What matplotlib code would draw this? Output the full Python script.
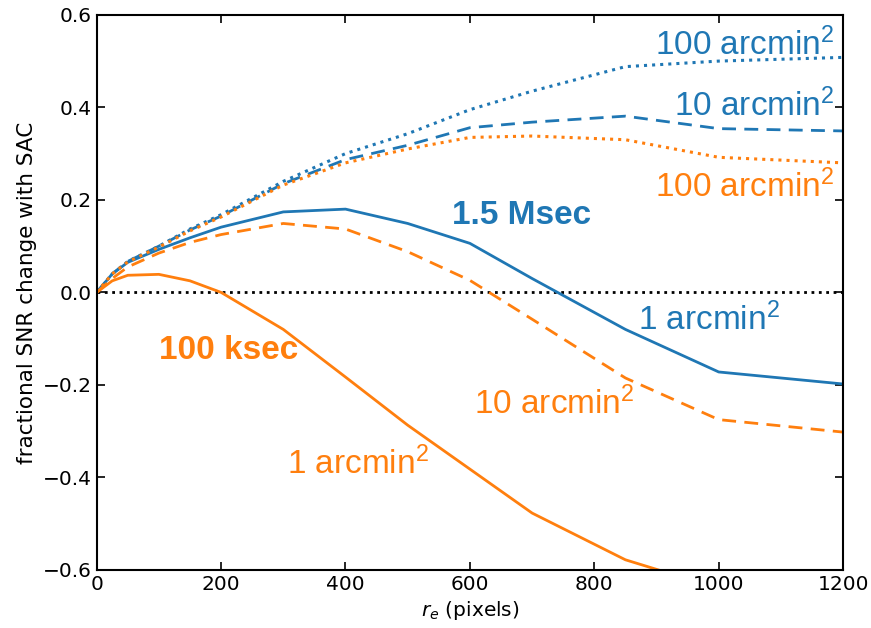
import numpy as np
import matplotlib.pyplot as plt

# r_e grid (pixels)
x = np.array([0, 25, 50, 100, 150, 200, 300, 400, 500, 600, 700, 850, 1000, 1200])

# 1.5 Msec exposures
blue_1 = np.array([0, 0.040, 0.065, 0.093, 0.118, 0.141, 0.174, 0.180, 0.149, 0.106, 0.030, -0.080, -0.172, -0.198])
blue_10 = np.array([0, 0.040, 0.067, 0.100, 0.135, 0.165, 0.235, 0.287, 0.318, 0.356, 0.368, 0.381, 0.354, 0.349])
blue_100 = np.array([0, 0.040, 0.067, 0.100, 0.137, 0.168, 0.240, 0.300, 0.343, 0.395, 0.435, 0.488, 0.500, 0.508])

# 100 ksec exposures
x_o1 = np.array([0, 25, 50, 100, 150, 200, 300, 400, 500, 600, 700, 850, 1000])
orange_1 = np.array([0, 0.025, 0.037, 0.039, 0.025, 0.0, -0.080, -0.183, -0.287, -0.382, -0.477, -0.578, -0.640])
orange_10 = np.array([0, 0.030, 0.055, 0.085, 0.108, 0.125, 0.149, 0.137, 0.088, 0.026, -0.058, -0.185, -0.275, -0.302])
orange_100 = np.array([0, 0.040, 0.066, 0.098, 0.133, 0.163, 0.232, 0.280, 0.310, 0.335, 0.338, 0.330, 0.292, 0.280])

blue = '#1f77b4'
orange = '#ff7f0e'

# annotation font: Arial-like, superscripts via mathtext in the same font
plt.rcParams['mathtext.fontset'] = 'custom'
plt.rcParams['mathtext.rm'] = 'Liberation Sans'
plt.rcParams['mathtext.it'] = 'Liberation Sans:italic'
plt.rcParams['mathtext.bf'] = 'Liberation Sans:bold'

fig = plt.figure(figsize=(8.71, 6.28), dpi=100)
ax = fig.add_axes([0.111, 0.0924, 0.857, 0.884])

ax.axhline(0, color='black', ls=':', lw=2)

ax.plot(x, blue_1, color=blue, lw=2)
ax.plot(x, blue_10, color=blue, lw=2, ls='--', dashes=(5, 3))
ax.plot(x, blue_100, color=blue, lw=2.2, ls=':')
ax.plot(x_o1, orange_1, color=orange, lw=2)
ax.plot(x, orange_10, color=orange, lw=2, ls='--', dashes=(5, 3))
ax.plot(x, orange_100, color=orange, lw=2.2, ls=':')

ax.set_xlim(0, 1200)
ax.set_ylim(-0.6, 0.6)
ax.set_xticks([0, 200, 400, 600, 800, 1000, 1200])
ax.set_yticks([-0.6, -0.4, -0.2, 0.0, 0.2, 0.4, 0.6])
ax.tick_params(direction='in', top=True, right=True, length=6, width=1.2, labelsize=14.5)
for s in ax.spines.values():
    s.set_linewidth(1.5)

xl = ax.set_xlabel(r'$r_e$ (pixels)', fontsize=14.5)
xl.set_math_fontfamily('dejavusans')
ax.set_ylabel('fractional SNR change with SAC', fontsize=15.5, labelpad=4)

tf = 'Liberation Sans'
fs = 24
sq = r'$^{2}$'
kw = dict(fontsize=fs, family=tf, va='baseline')
ax.text(1186, 0.512, '100 arcmin' + sq, color=blue, ha='right', **kw)
ax.text(1186, 0.380, '10 arcmin' + sq, color=blue, ha='right', **kw)
ax.text(1186, 0.206, '100 arcmin' + sq, color=orange, ha='right', **kw)
ax.text(683, 0.147, '1.5 Msec', color=blue, weight='bold', ha='center', **kw)
ax.text(1098, -0.082, '1 arcmin' + sq, color=blue, ha='right', **kw)
ax.text(864, -0.262, '10 arcmin' + sq, color=orange, ha='right', **kw)
ax.text(306, -0.393, '1 arcmin' + sq, color=orange, ha='left', **kw)
ax.text(100, -0.145, '100 ksec', color=orange, weight='bold', ha='left', **kw)

fig.savefig('out.png', dpi=100)
